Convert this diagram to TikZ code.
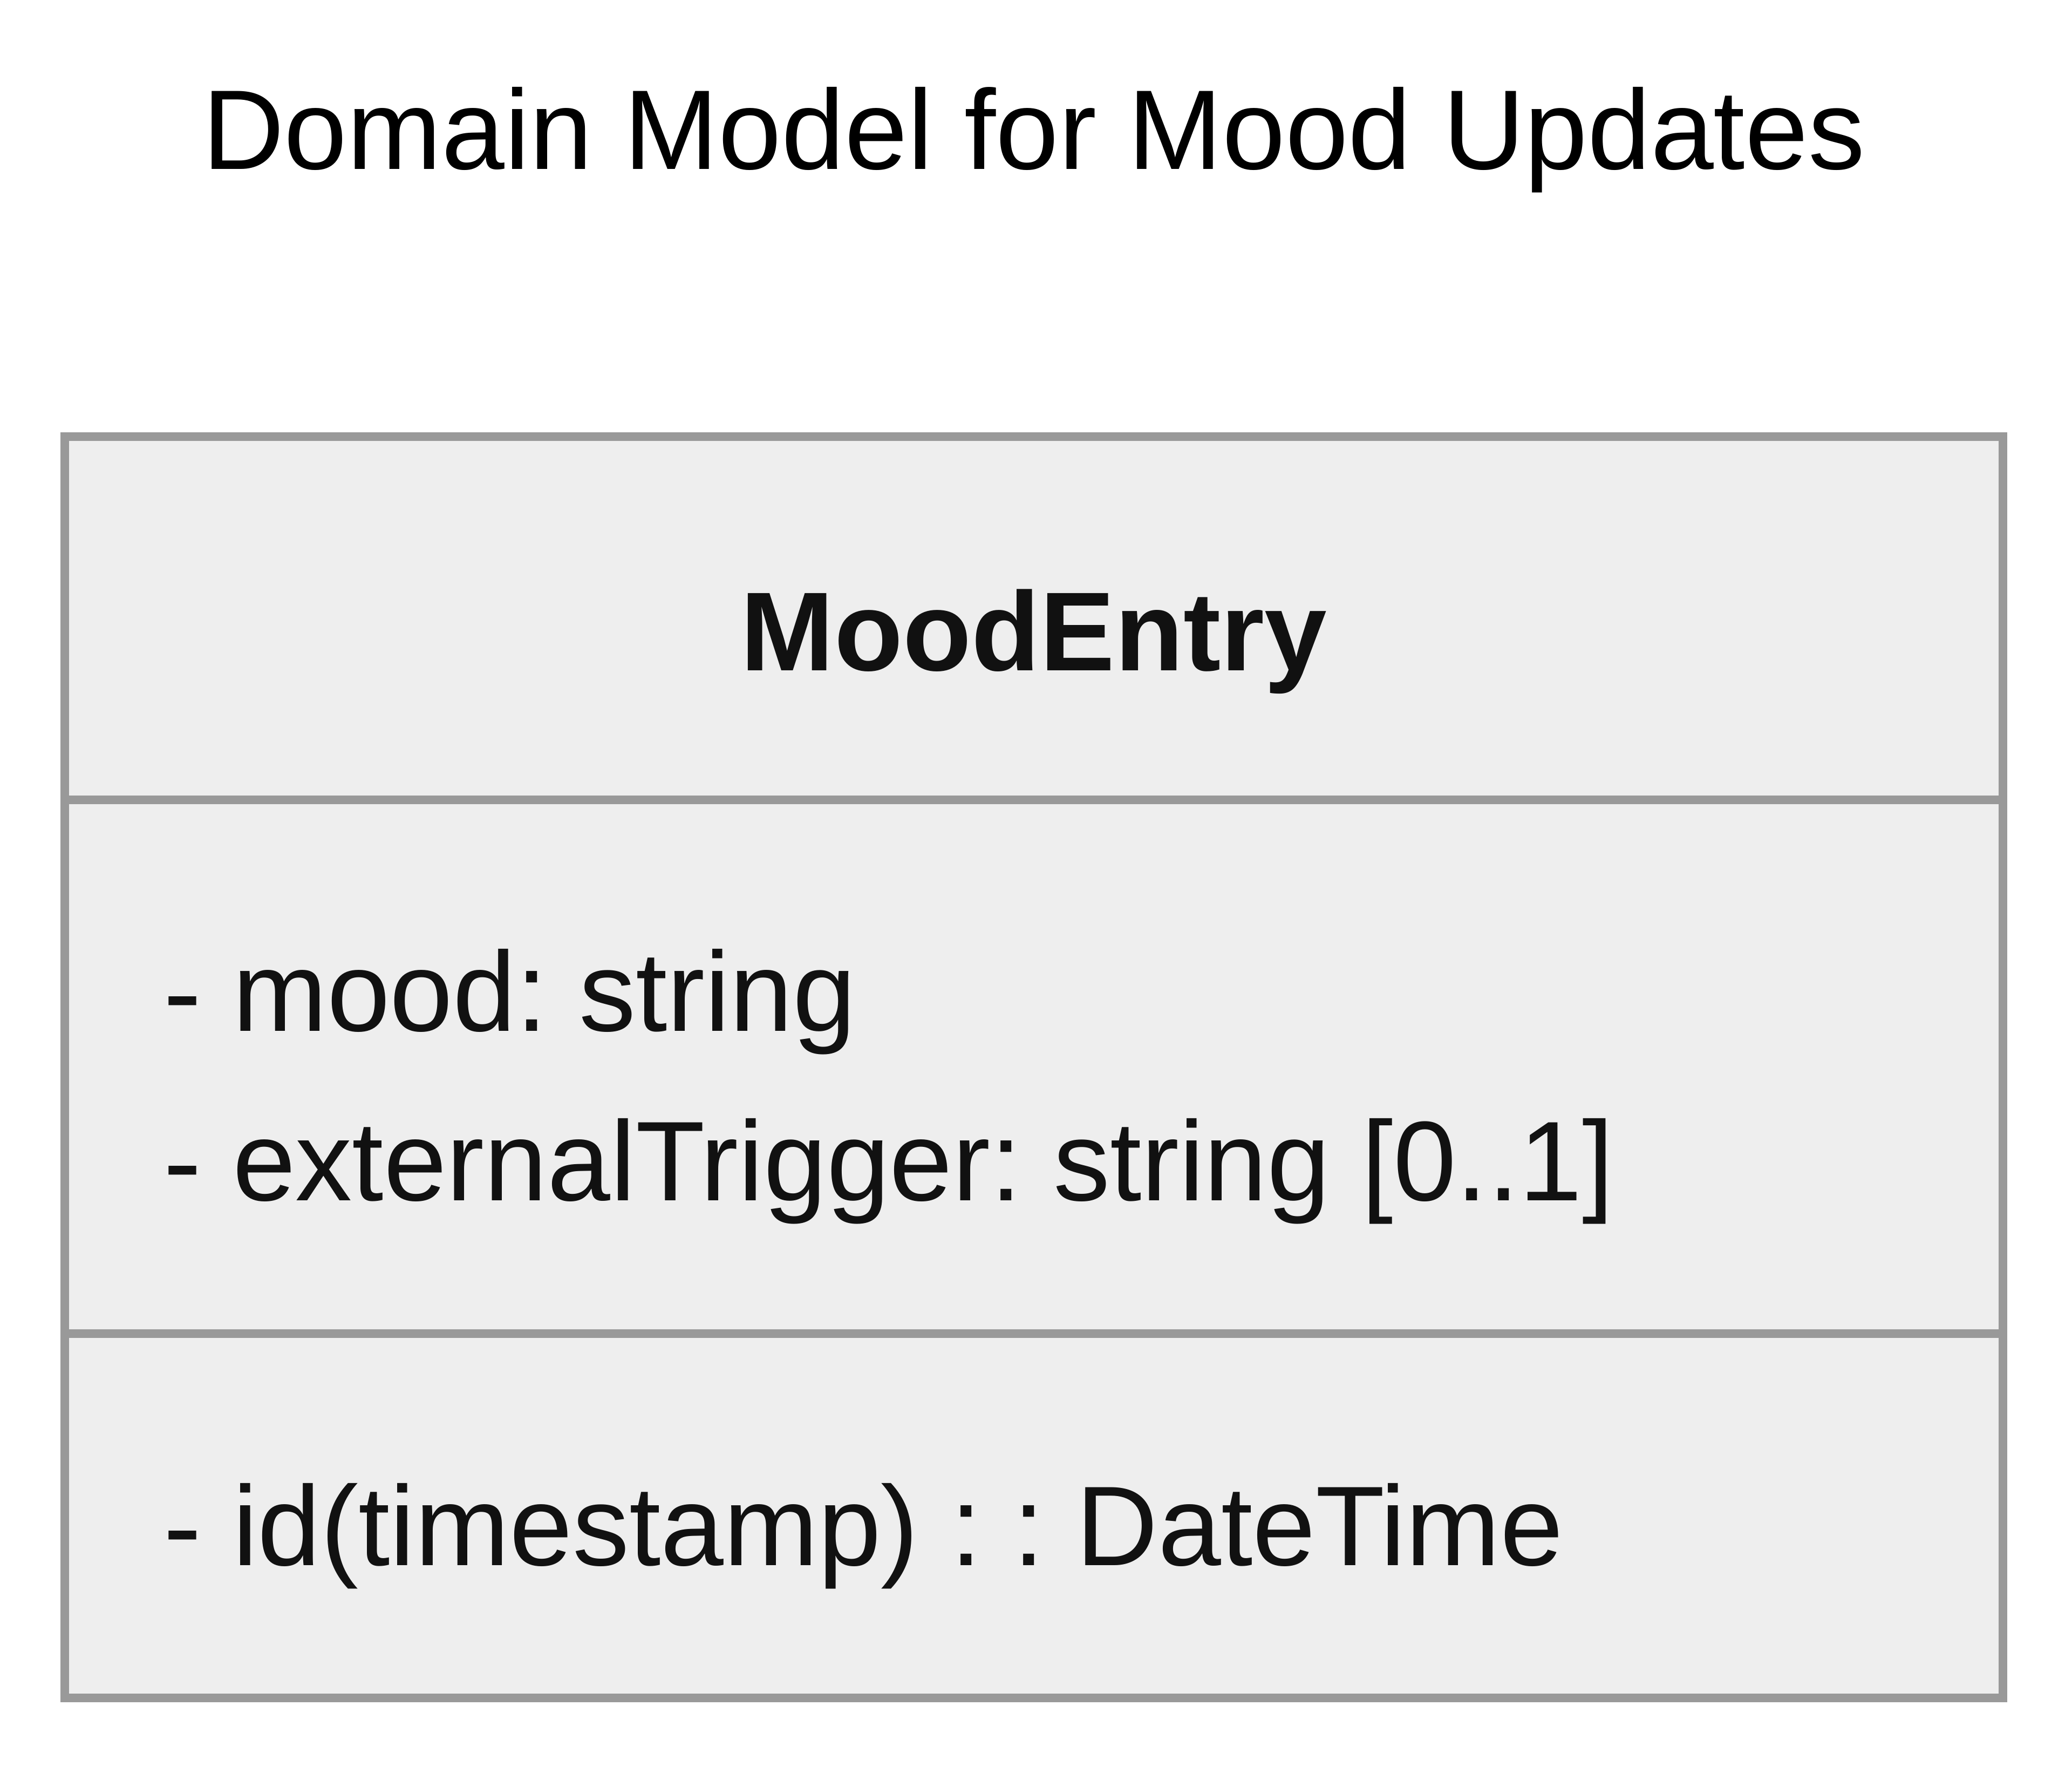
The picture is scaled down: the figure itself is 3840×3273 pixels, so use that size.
\documentclass[tikz,border=0pt]{standalone}
\usepackage{fontspec}
\setmainfont{Liberation Sans}
\frenchspacing
\definecolor{boxline}{HTML}{999999}
\definecolor{boxfill}{HTML}{EEEEEE}
\definecolor{txt}{HTML}{111111}
\begin{document}
\begin{tikzpicture}[x=0.1pt,y=-0.1pt,
  classbox/.style={draw=boxline, fill=boxfill, line width=1.6pt, inner sep=0pt, outer sep=0pt,
    minimum width=359.2pt, minimum height=233.7pt},
  divider/.style={draw=boxline, line width=1.6pt},
  member/.style={anchor=base west, inner sep=0pt, text=txt, font=\fontsize{21}{25}\selectfont},
  titletext/.style={anchor=base, inner sep=0pt, text=black, font=\fontsize{21}{25}\selectfont},
  classname/.style={anchor=base, inner sep=0pt, text=txt, font=\fontsize{20.8}{25}\selectfont\bfseries}]
\useasboundingbox (0,0) rectangle (3840,3273);
\node[titletext] (title) at (1916,313) {Domain Model for Mood Updates};
\node[classbox] (box) at (1916,1977.5) {};
\coordinate (d1l) at (120,1482);
\coordinate (d1r) at (3712,1482);
\coordinate (d2l) at (120,2471);
\coordinate (d2r) at (3712,2471);
\draw[divider] (d1l) -- (d1r);
\draw[divider] (d2l) -- (d2r);
\node[classname] (name) at (1916,1242) {MoodEntry};
\node[member] (a1) at (301,1910) {- mood: string};
\node[member] (a2) at (301,2224) {- externalTrigger: string [0..1]};
\node[member] (m1) at (301,2900) {- id(timestamp) : : DateTime};
\end{tikzpicture}
\end{document}
